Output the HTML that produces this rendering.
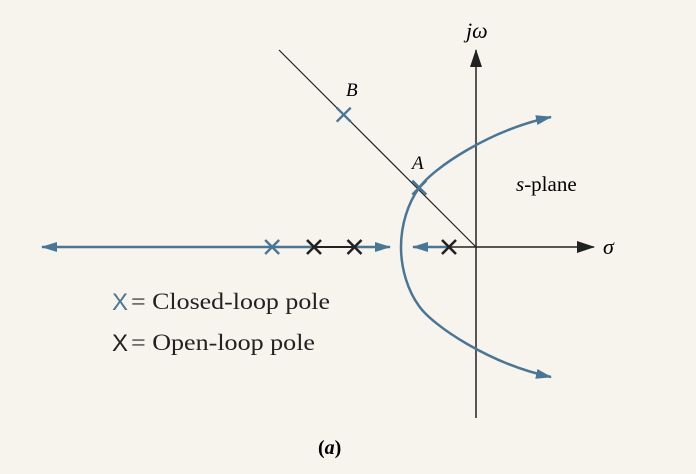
<!DOCTYPE html>
<html><head><meta charset="utf-8"><style>
html,body{margin:0;padding:0;background:#f7f3ed;}
svg{display:block;}
</style></head><body>
<svg width="696" height="474" viewBox="0 0 696 474" style="font-family:'Liberation Serif',serif">
<defs>
<marker id="ab" markerWidth="18" markerHeight="12" refX="17" refY="6" orient="auto" markerUnits="userSpaceOnUse"><path d="M0,0 L18,6 L0,12 Z" fill="#222"/></marker>
<marker id="abl" markerWidth="16" markerHeight="10" refX="15" refY="5" orient="auto" markerUnits="userSpaceOnUse"><path d="M0,0 L16,5 L0,10 Z" fill="#4a7696"/></marker>
</defs>
<g id="plot"></g>
<text x="466" y="38" font-size="22" font-style="italic" style="font-family:'Liberation Serif',serif">jω</text>
<text x="603" y="254" font-size="22" font-style="italic" style="font-family:'Liberation Serif',serif">σ</text>
<text x="516" y="191" font-size="21" style="font-family:'Liberation Serif',serif"><tspan font-style="italic">s</tspan>-plane</text>
<text x="346" y="96" font-size="19" font-style="italic" style="font-family:'Liberation Serif',serif">B</text>
<text x="412" y="169" font-size="19" font-style="italic" style="font-family:'Liberation Serif',serif">A</text>
<g>
<text x="112" y="310" font-size="24" fill="#4a7696" style="font-family:'Liberation Sans',sans-serif">X</text>
<text x="131" y="309" font-size="23" fill="#222" textLength="199" lengthAdjust="spacingAndGlyphs" style="font-family:'Liberation Serif',serif">= Closed-loop pole</text>
<text x="112" y="351" font-size="24" fill="#222" style="font-family:'Liberation Sans',sans-serif">X</text>
<text x="131" y="350" font-size="23" fill="#222" textLength="184" lengthAdjust="spacingAndGlyphs" style="font-family:'Liberation Serif',serif">= Open-loop pole</text>
</g>
<text x="318" y="454" font-size="20" font-weight="bold" style="font-family:'Liberation Serif',serif">(<tspan font-style="italic">a</tspan>)</text>
</svg>
<script>
const openPolesRe=[-1,-4.5,-6];
const closedPolesRe=[-7.55,-2.1,-4.9];
const closedPolesIm=[0,2.2,4.9];
const ox=476, oy=247, sc=27;
function X(v){return ox+v*sc;}
function Y(v){return oy-v*sc;}
const g=document.getElementById('plot');
const NS='http://www.w3.org/2000/svg';
function el(t,a){const e=document.createElementNS(NS,t);for(const k in a)e.setAttribute(k,a[k]);g.appendChild(e);return e;}
let e;
e=el('line',{x1:476,y1:418,x2:476,y2:50,stroke:'#222','stroke-width':1.5,'marker-end':'url(#ab)'});


e=el('line',{x1:X(openPolesRe[0]),y1:oy,x2:594,y2:oy,stroke:'#222','stroke-width':1.5,'marker-end':'url(#ab)'});


e=el('line',{x1:279,y1:50,x2:ox,y2:oy,stroke:'#222','stroke-width':1.2});


e=el('line',{x1:X(openPolesRe[2]),y1:oy,x2:X(openPolesRe[1]),y2:oy,stroke:'#222','stroke-width':2});


e=el('line',{x1:X(openPolesRe[2]),y1:oy,x2:42,y2:oy,stroke:'#4a7696','stroke-width':2.5,'marker-end':'url(#abl)'});


e=el('line',{x1:X(openPolesRe[1]),y1:oy,x2:390,y2:oy,stroke:'#4a7696','stroke-width':2.5,'marker-end':'url(#abl)'});


e=el('line',{x1:X(openPolesRe[0]),y1:oy,x2:413,y2:oy,stroke:'#4a7696','stroke-width':2.5,'marker-end':'url(#abl)'});


e=el('path',{d:'M401,247 C401,225 408,203 419,188 C433,168 490,130 551,117',fill:'none',stroke:'#4a7696','stroke-width':2.5,'marker-end':'url(#abl)'});


e=el('path',{d:'M401,247 C401,269 408,291 419,306 C433,326 490,364 551,377',fill:'none',stroke:'#4a7696','stroke-width':2.5,'marker-end':'url(#abl)'});


function cross(x,y,c,w,s){return el('path',{d:`M${x-s},${y-s}L${x+s},${y+s}M${x+s},${y-s}L${x-s},${y+s}`,stroke:c,'stroke-width':w,fill:'none'});}
openPolesRe.forEach((r)=>{const p=cross(X(r),oy,'#222',2.6,7);

});
closedPolesRe.forEach((r,i)=>{const p=cross(X(r),Y(closedPolesIm[i]),'#4a7696',2.4,7);

});
</script>
</body></html>
